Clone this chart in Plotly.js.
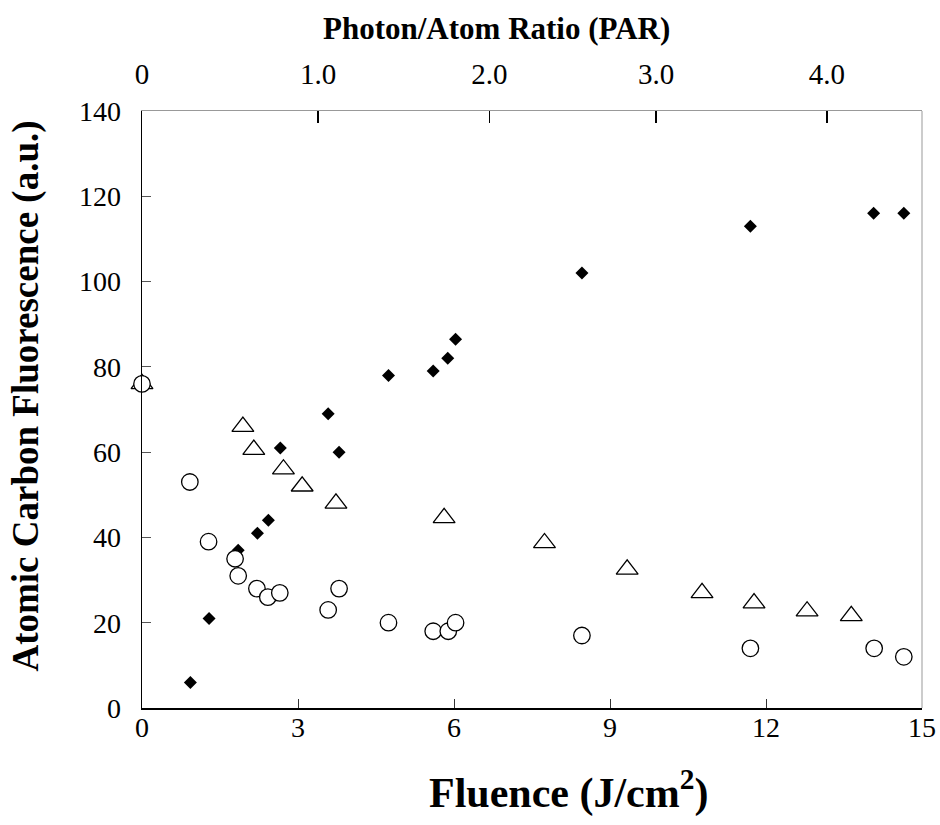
<!DOCTYPE html>
<html>
<head>
<meta charset="utf-8">
<script src="https://cdn.plot.ly/plotly-3.0.1.min.js"></script>
<style>html,body{margin:0;padding:0;background:#fff;}#chart{width:940px;height:825px;}</style>
</head>
<body>
<div id="chart"></div>
<script>
// Fluence (J/cm^2) and atomic carbon fluorescence (a.u.)
var diamondFluence = [0.93, 1.29, 1.85, 2.22, 2.43, 2.66, 3.58, 3.79, 4.74, 5.60, 5.88, 6.03, 8.46, 11.70, 14.07, 14.65];
var diamondSignal  = [6, 21, 37, 41, 44, 61, 69, 60, 78, 79, 82, 86.5, 102, 113, 116, 116];

var circleFluence = [0, 0.92, 1.28, 1.79, 1.85, 2.21, 2.42, 2.65, 3.58, 3.79, 4.74, 5.60, 5.89, 6.03, 8.46, 11.70, 14.08, 14.65];
var circleSignal  = [76, 53, 39, 35, 31, 28, 26, 27, 23, 28, 20, 18, 18, 20, 17, 14, 14, 12];

var triangleFluence = [0, 1.94, 2.15, 2.72, 3.08, 3.73, 5.81, 7.74, 9.33, 10.77, 11.77, 12.79, 13.64];
var triangleSignal  = [76, 66, 60.6, 56, 52, 48, 44.6, 38.7, 32.5, 27, 24.6, 22.7, 21.6];

// Top axis: Photon/Atom Ratio ticks, positioned at their fluence equivalents
var parTickLabels   = ['0', '1.0', '2.0', '3.0', '4.0'];
var parTickFluence  = [0, 3.385, 6.68, 9.885, 13.17];

var yTicks = [0, 20, 40, 60, 80, 100, 120, 140];
var xTicks = [0, 3, 6, 9, 12, 15];

var serif = 'Liberation Serif, Times New Roman, serif';

var traces = [
  {x: diamondFluence, y: diamondSignal, type: 'scatter', mode: 'markers', name: 'diamond', cliponaxis: false,
   marker: {symbol: 'diamond', size: 10, color: '#000', line: {width: 0}}},
  {x: triangleFluence, y: triangleSignal, type: 'scatter', mode: 'markers', name: 'triangle', cliponaxis: false,
   marker: {symbol: 'triangle-up', size: 19, color: '#fff', line: {width: 1.3, color: '#000'}}},
  {x: circleFluence, y: circleSignal, type: 'scatter', mode: 'markers', name: 'circle', cliponaxis: false,
   marker: {symbol: 'circle', size: 16.5, color: '#fff', line: {width: 1.3, color: '#000'}}},
  {x: [0], y: [0], xaxis: 'x2', type: 'scatter', mode: 'markers', showlegend: false, hoverinfo: 'skip',
   marker: {opacity: 0}}
];

var layout = {
  width: 940, height: 825,
  margin: {l: 142, r: 18, t: 111, b: 117},
  paper_bgcolor: '#fff', plot_bgcolor: '#fff',
  showlegend: false,
  font: {family: serif, color: '#000', size: 28},
  xaxis: {
    range: [0, 15], tickvals: xTicks, ticktext: xTicks.map(String),
    showgrid: false, zeroline: false,
    showline: true, linecolor: '#000', linewidth: 1.5,
    ticks: 'inside', ticklen: 9, tickwidth: 1, tickcolor: '#333',
    ticklabelstandoff: -6,
    tickfont: {family: serif, size: 28, color: '#000'}
  },
  xaxis2: {
    overlaying: 'x', side: 'top', range: [0, 15],
    tickvals: parTickFluence, ticktext: parTickLabels,
    showgrid: false, zeroline: false,
    showline: true, linecolor: '#999', linewidth: 1,
    ticks: 'inside', ticklen: 12, tickwidth: 1.5, tickcolor: '#000',
    ticklabelstandoff: 14,
    tickfont: {family: serif, size: 29, color: '#000'}
  },
  yaxis: {
    range: [0, 140], tickvals: yTicks, ticktext: yTicks.map(String),
    showgrid: false, zeroline: false,
    showline: true, linecolor: '#000', linewidth: 1.5,
    ticks: 'inside', ticklen: 9, tickwidth: 1, tickcolor: '#555',
    ticklabelstandoff: 14,
    tickfont: {family: serif, size: 28, color: '#000'}
  },
  shapes: [
    {type: 'line', xref: 'paper', yref: 'paper', x0: 1, x1: 1, y0: 0, y1: 1,
     line: {color: '#999', width: 1}}
  ],
  annotations: [
    {text: '<b>Fluence (J/cm<sup>2</sup>)</b>', xref: 'paper', yref: 'paper',
     x: 0.547, y: -0.137, xanchor: 'center', yanchor: 'middle', showarrow: false,
     font: {family: serif, size: 42, color: '#000'}},
    {text: '<b>Photon/Atom Ratio (PAR)</b>', xref: 'paper', yref: 'paper',
     x: 0.455, y: 1.139, xanchor: 'center', yanchor: 'middle', showarrow: false,
     font: {family: serif, size: 31, color: '#000'}},
    {text: '<b>Atomic Carbon Fluorescence (a.u.)</b>', xref: 'paper', yref: 'paper',
     x: -0.149, y: 0.523, xanchor: 'center', yanchor: 'middle', showarrow: false, textangle: -90,
     font: {family: serif, size: 37, color: '#000'}}
  ]
};

Plotly.newPlot('chart', traces, layout, {displayModeBar: false, staticPlot: true});
</script>
</body>
</html>
